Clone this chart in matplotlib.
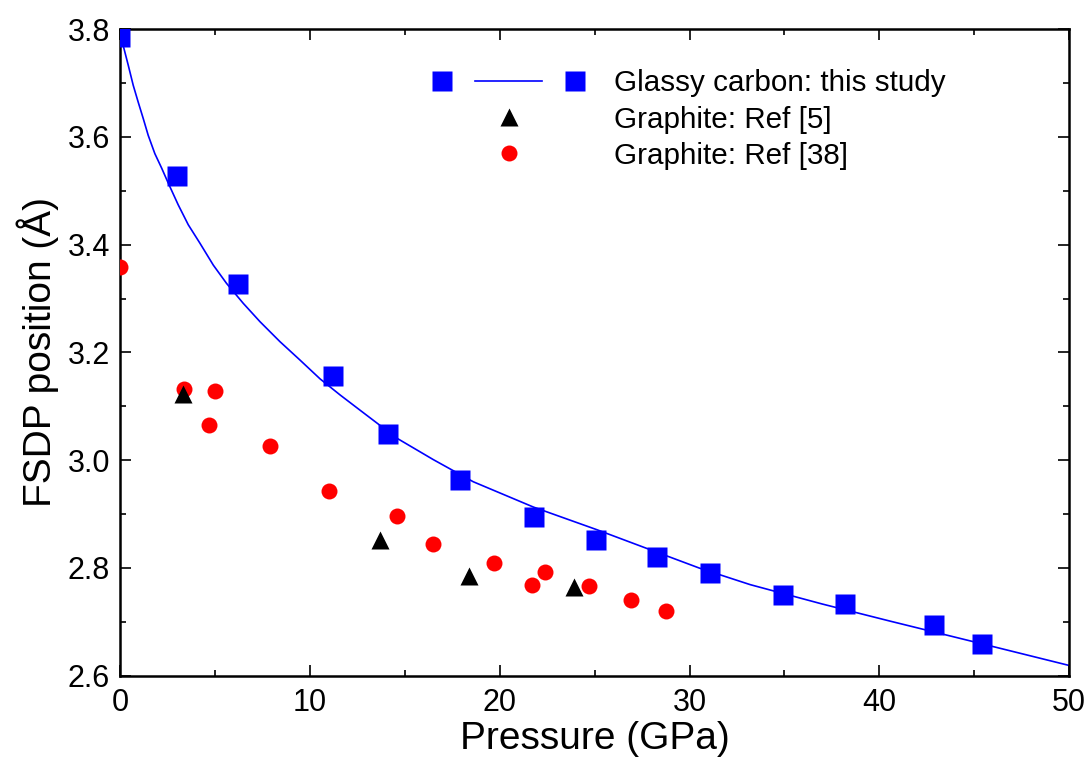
import matplotlib
matplotlib.use("Agg")
import matplotlib.pyplot as plt
from matplotlib.lines import Line2D
from matplotlib.legend_handler import HandlerLine2D
from matplotlib.ticker import MultipleLocator, FormatStrFormatter

plt.rcParams['font.family'] = ['Liberation Sans', 'DejaVu Sans']

# glassy carbon, this study
gc_p = [0.0, 3.0, 6.2, 11.2, 14.1, 17.9, 21.8, 25.1, 28.3, 31.1, 34.9, 38.2, 42.9, 45.4]
gc_d = [3.785, 3.528, 3.327, 3.157, 3.049, 2.963, 2.894, 2.852, 2.820, 2.790, 2.750, 2.734, 2.694, 2.659]

# fitted curve
fit_p = [0.0, 0.17, 0.44, 0.70, 0.96, 1.23, 1.49, 1.84, 2.20, 2.55, 3.07, 3.6, 4.21,
         4.92, 5.62, 6.50, 7.38, 8.43, 9.48, 10.54, 11.6, 12.64, 14.58, 16.51, 18.61,
         21.78, 25.12, 28.3, 30.5, 33.2, 37.0, 40.6, 45.2, 50.0]
fit_d = [3.795, 3.770, 3.733, 3.696, 3.665, 3.634, 3.603, 3.569, 3.542, 3.514, 3.474,
         3.437, 3.403, 3.362, 3.328, 3.291, 3.257, 3.220, 3.186, 3.151, 3.121, 3.093,
         3.041, 3.001, 2.960, 2.913, 2.871, 2.829, 2.800, 2.769, 2.733, 2.701, 2.661,
         2.619]

# graphite, Ref [5]
g5_p = [3.3, 13.7, 18.4, 23.9]
g5_d = [3.122, 2.852, 2.785, 2.765]

# graphite, Ref [38]
g38_p = [0.0, 3.4, 4.7, 5.0, 7.9, 11.0, 14.6, 16.5, 19.7, 21.7, 22.4, 24.7, 26.9, 28.75]
g38_d = [3.359, 3.132, 3.066, 3.129, 3.027, 2.943, 2.897, 2.845, 2.809, 2.768, 2.792,
         2.767, 2.741, 2.720]


class HandlerGap(HandlerLine2D):
    # marker - short line - marker, like the original legend
    def create_artists(self, legend, orig_handle, xdescent, ydescent,
                       width, height, fontsize, trans):
        arts = super().create_artists(legend, orig_handle, xdescent, ydescent,
                                      width, height, fontsize, trans)
        mk = arts[0]
        mk.set_linestyle('none')
        y = (height - ydescent) / 2
        x0 = -xdescent
        seg = Line2D([x0 + 0.28 * width, x0 + 0.72 * width], [y, y],
                     color=orig_handle.get_color(),
                     lw=orig_handle.get_linewidth(), transform=trans)
        return [seg, mk]


fig = plt.figure(figsize=(10.9, 7.67), dpi=100)
ax = fig.add_axes([0.110, 0.119, 0.871, 0.843])

ax.plot(fit_p, fit_d, color='#0000ff', lw=1.2, zorder=2)
ax.plot(g38_p, g38_d, 'o', color='#ff0000', ms=11.5, mec='none', zorder=3)
ax.plot(g5_p, g5_d, '^', color='black', ms=13, mec='none', zorder=4)
ax.plot(gc_p, gc_d, 's', color='#0000ff', ms=14, mec='none', zorder=5)

ax.set_xlim(0, 50)
ax.set_ylim(2.6, 3.8)
ax.xaxis.set_major_locator(MultipleLocator(10))
ax.xaxis.set_minor_locator(MultipleLocator(5))
ax.yaxis.set_major_locator(MultipleLocator(0.2))
ax.yaxis.set_minor_locator(MultipleLocator(0.1))
ax.yaxis.set_major_formatter(FormatStrFormatter('%.1f'))

ax.tick_params(which='both', direction='in', top=True, right=True, width=1.2)
ax.tick_params(which='major', length=8)
ax.tick_params(which='minor', length=4.5)
ax.tick_params(axis='x', labelsize=22, pad=9)
ax.tick_params(axis='y', labelsize=22, pad=7)
for s in ax.spines.values():
    s.set_linewidth(1.8)

ax.set_xlabel('Pressure (GPa)', fontsize=28, labelpad=2)
ax.set_ylabel('FSDP position (Å)', fontsize=28, labelpad=6)

h_gc = Line2D([], [], color='#0000ff', lw=1.2, marker='s', ms=14, mec='none')
h_g5 = Line2D([], [], ls='none', color='black', marker='^', ms=13, mec='none')
h_g38 = Line2D([], [], ls='none', color='#ff0000', marker='o', ms=11.5, mec='none')
ax.legend([h_gc, h_g5, h_g38],
          ['Glassy carbon: this study', 'Graphite: Ref [5]', 'Graphite: Ref [38]'],
          handler_map={h_gc: HandlerGap(numpoints=2), h_g5: HandlerLine2D(numpoints=1),
                       h_g38: HandlerLine2D(numpoints=1)},
          loc='upper left', bbox_to_anchor=(0.33, 0.938), frameon=False,
          fontsize=21.3, handlelength=5.1, handletextpad=1.0, labelspacing=0.28,
          borderpad=0, borderaxespad=0)

fig.savefig('out.png', dpi=100)
